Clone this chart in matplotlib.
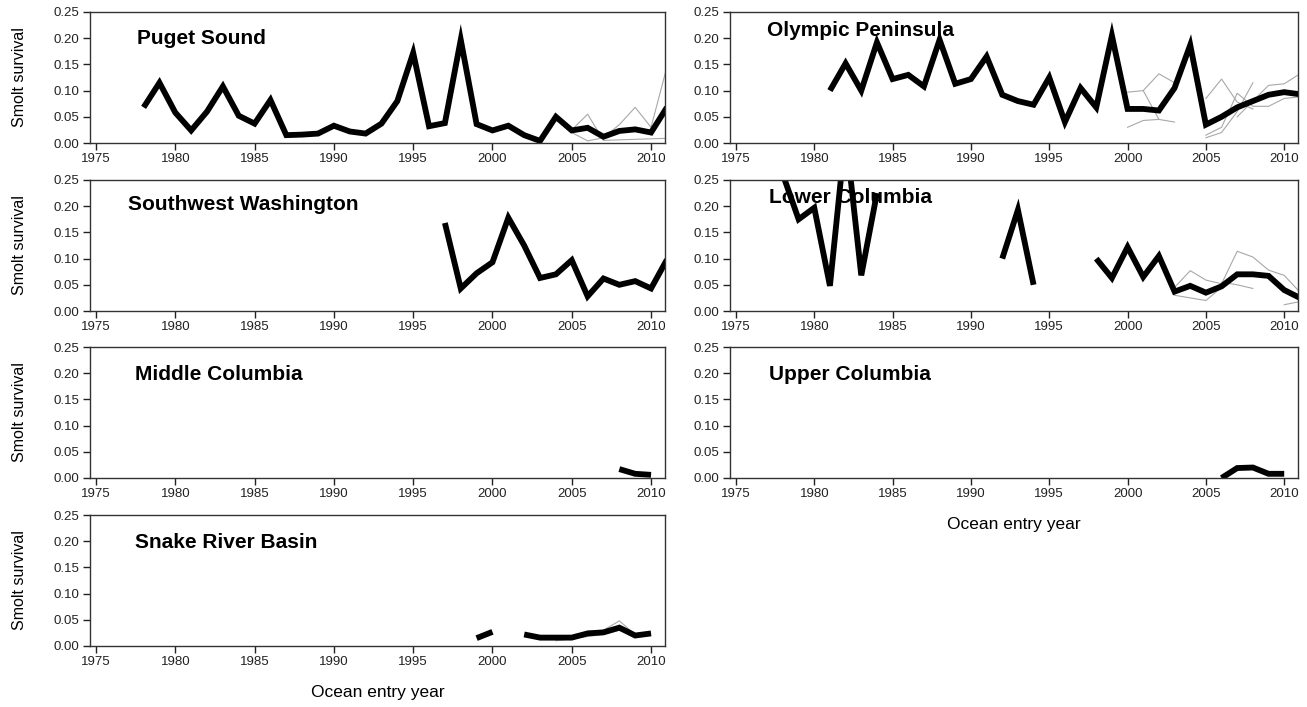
import numpy as np
import matplotlib.pyplot as plt

plt.rcParams['font.family'] = ['Liberation Sans', 'DejaVu Sans']

nan = np.nan

# Region names and where the label sits (axes fraction)
regions = ['Puget Sound', 'Olympic Peninsula', 'Southwest Washington',
           'Lower Columbia', 'Middle Columbia', 'Upper Columbia',
           'Snake River Basin']
label_x = [0.082, 0.065, 0.066, 0.069, 0.078, 0.069, 0.078]
label_y = [0.80, 0.86, 0.81, 0.87, 0.79, 0.79, 0.79]

# Mean smolt survival per region (thick black line), keyed by year
puget_yr = list(range(1978, 2012))
puget = [0.068, 0.115, 0.058, 0.024, 0.060, 0.108, 0.052, 0.037, 0.082, 0.015,
         0.016, 0.018, 0.033, 0.022, 0.018, 0.037, 0.080, 0.172, 0.032, 0.038,
         0.197, 0.036, 0.024, 0.033, 0.015, 0.004, 0.050, 0.024, 0.029, 0.012,
         0.023, 0.026, 0.020, 0.068]

olympic_yr = list(range(1981, 2012))
olympic = [0.100, 0.152, 0.100, 0.192, 0.122, 0.130, 0.108, 0.197, 0.113, 0.122,
           0.165, 0.092, 0.080, 0.073, 0.125, 0.040, 0.105, 0.068, 0.205, 0.065,
           0.065, 0.062, 0.105, 0.187, 0.035, 0.050, 0.068, 0.080, 0.092, 0.097,
           0.093]

swwa_yr = list(range(1997, 2012))
swwa = [0.168, 0.043, 0.072, 0.093, 0.178, 0.125, 0.063, 0.070, 0.097, 0.028,
        0.062, 0.050, 0.057, 0.043, 0.098]

lowcol_yr = list(range(1978, 2012))
lowcol = [0.260, 0.175, 0.197, 0.048, 0.340, 0.068, 0.225, nan, nan, nan,
          nan, nan, nan, nan, 0.100, 0.193, 0.050, nan, nan, nan,
          0.100, 0.063, 0.122, 0.065, 0.105, 0.037, 0.048, 0.035, 0.047, 0.070,
          0.070, 0.067, 0.040, 0.025]

midcol_yr = [2008, 2009, 2010]
midcol = [0.017, 0.008, 0.006]

upcol_yr = [2006, 2007, 2008, 2009, 2010]
upcol = [0.000, 0.019, 0.020, 0.008, 0.008]

snake_yr = list(range(1999, 2011))
snake = [0.015, 0.027, nan, 0.022, 0.016, 0.016, 0.016, 0.024, 0.026, 0.035,
         0.020, 0.024]

# Individual populations (thin grey lines)
puget_pops = [
    ([2005, 2006, 2007, 2008, 2009, 2010, 2011],
     [0.025, 0.055, 0.005, 0.006, 0.007, 0.008, 0.009]),
    ([2005, 2006, 2007, 2008, 2009, 2010, 2011],
     [0.020, 0.004, 0.010, 0.035, 0.068, 0.030, 0.145]),
]
olympic_pops = [
    ([2000, 2001, 2002, 2003], [0.097, 0.100, 0.132, 0.115]),
    ([2000, 2001, 2002], [0.030, 0.043, 0.045]),
    ([2001, 2002, 2003], [0.100, 0.045, 0.040]),
    ([2005, 2006, 2007, 2008], [0.085, 0.122, 0.078, 0.065]),
    ([2005, 2006, 2007, 2008], [0.010, 0.020, 0.060, 0.115]),
    ([2005, 2006, 2007, 2008, 2009, 2010, 2011],
     [0.015, 0.030, 0.095, 0.070, 0.070, 0.085, 0.088]),
    ([2007, 2008, 2009, 2010, 2011], [0.050, 0.080, 0.110, 0.113, 0.132]),
]
lowcol_pops = [
    ([2003, 2004, 2005, 2006, 2007, 2008, 2009, 2010, 2011],
     [0.045, 0.077, 0.059, 0.052, 0.114, 0.103, 0.078, 0.068, 0.036]),
    ([2003, 2004, 2005, 2006, 2007],
     [0.030, 0.025, 0.020, 0.045, 0.068]),
    ([2006, 2007, 2008], [0.055, 0.050, 0.043]),
    ([2010, 2011], [0.012, 0.018]),
]
snake_pops = [
    ([2003, 2004, 2005, 2006, 2007, 2008, 2009],
     [0.012, 0.012, 0.016, 0.028, 0.030, 0.048, 0.022]),
    ([2004, 2005, 2006, 2007, 2008, 2009],
     [0.010, 0.014, 0.018, 0.022, 0.030, 0.020]),
]

means = [(puget_yr, puget), (olympic_yr, olympic), (swwa_yr, swwa),
         (lowcol_yr, lowcol), (midcol_yr, midcol), (upcol_yr, upcol),
         (snake_yr, snake)]
pops = [puget_pops, olympic_pops, [], lowcol_pops, [], [], snake_pops]

fig = plt.figure(figsize=(13.07, 7.07), dpi=100)

col_x = [90 / 1307, 730 / 1307]
col_w = [575 / 1307, 568 / 1307]
row_top = [12, 180, 347, 515]
h = 131 / 707

for i, name in enumerate(regions):
    r, c = divmod(i, 2)
    ax = fig.add_axes([col_x[c], 1 - (row_top[r] + 131) / 707, col_w[c], h])
    for px, py in pops[i]:
        ax.plot(px, py, color='#a8a8a8', lw=0.8)
    mx, my = means[i]
    ax.plot(mx, my, color='black', lw=4.2, solid_capstyle='butt',
            solid_joinstyle='miter')
    ax.set_xlim(1974.62, 2010.88)
    ax.set_ylim(0, 0.25)
    ax.set_xticks(np.arange(1975, 2011, 5))
    ax.set_yticks([0, 0.05, 0.10, 0.15, 0.20, 0.25])
    ax.set_yticklabels(['0.00', '0.05', '0.10', '0.15', '0.20', '0.25'])
    ax.tick_params(direction='out', length=5, width=1, labelsize=9.5,
                   pad=2.5, colors='#222222')
    for s in ax.spines.values():
        s.set_linewidth(1)
        s.set_color('#333333')
    # label sits under the lines, as in the original
    ax.text(label_x[i], label_y[i], name, transform=ax.transAxes,
            fontsize=15, fontweight='bold', va='center', ha='left', zorder=1)
    if c == 0:
        ax.set_ylabel('Smolt survival', fontsize=11.5, labelpad=19)
    if i == 6 or i == 5:
        ax.set_xlabel('Ocean entry year', fontsize=12.5, labelpad=12)

fig.savefig('out.png', dpi=100)
